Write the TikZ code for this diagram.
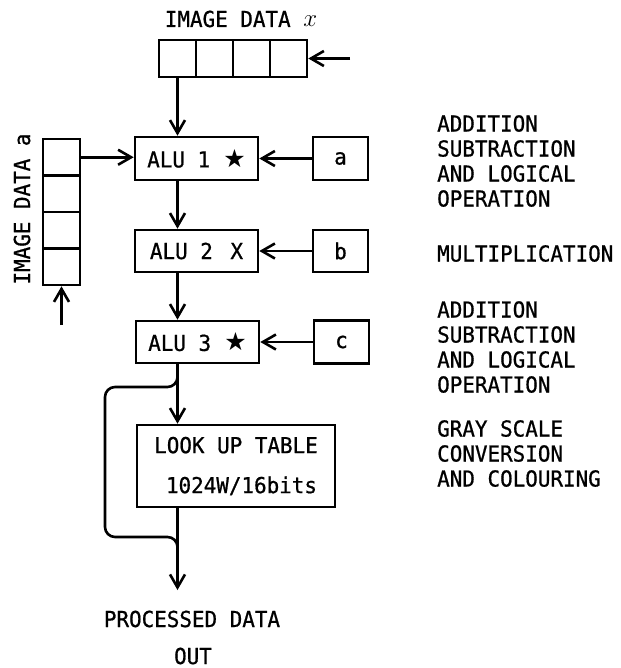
\documentclass[tikz,border=0pt]{standalone}
\usepackage{fontspec}
\setmonofont[FakeStretch=0.95,FakeBold=0.8]{DejaVu Sans Mono}
\newfontfamily\symfont{DejaVu Sans}
\usetikzlibrary{arrows.meta}
\newcommand\lbl{\ttfamily\fontsize{22}{25}\selectfont}
\newcommand\bigstar{{\symfont\fontsize{25}{25}\selectfont ★}}
\begin{document}
\begin{tikzpicture}[x=1pt,y=-1pt,
  lw/.style={line width=2.6pt},
  cell/.style={draw,lw,minimum width=37pt,minimum height=37pt,inner sep=0pt},
  vcell/.style={draw,lw,minimum width=37pt,minimum height=36.5pt,inner sep=0pt},
  blk/.style={draw,lw,inner sep=0pt,font=\lbl},
  arr/.style={lw,-{Straight Barb[length=13pt,width=15pt]}},
  txt/.style={inner sep=0pt,font=\lbl},
]
\useasboundingbox (0,0) rectangle (620,668);

% register x
\node[cell] (x1) at (177.5,58.5) {};
\node[cell] (x2) at (214.5,58.5) {};
\node[cell] (x3) at (251.5,58.5) {};
\node[cell] (x4) at (288.5,58.5) {};
\node[txt,anchor=base] (xlab) at (241,27) {IMAGE DATA {\fontsize{26}{26}\selectfont\(x\)}};

% register a
\node[vcell] (a1) at (61.5,157.25) {};
\node[vcell] (a2) at (61.5,193.75) {};
\node[vcell] (a3) at (61.5,230.25) {};
\node[vcell] (a4) at (61.5,266.75) {};
\node[txt,rotate=90] (alab) at (22,209) {IMAGE DATA a};

% ALUs
\node[blk,minimum width=123pt,minimum height=43pt] (alu1) at (196.5,158.5) {ALU 1\hspace{0.6em}\bigstar};
\node[blk,minimum width=123pt,minimum height=42pt] (alu2) at (196.5,251) {ALU 2\hspace{0.8em}X};
\node[blk,minimum width=123pt,minimum height=42pt] (alu3) at (197.5,342) {ALU 3\hspace{0.6em}\bigstar};

\node[blk,minimum width=55pt,minimum height=43pt] (ka) at (340.5,158.5) {a};
\node[blk,minimum width=55pt,minimum height=42pt] (kb) at (340.5,251) {b};
\node[blk,minimum width=55pt,minimum height=43pt] (kc) at (341.5,342) {c};

\node[blk,minimum width=198pt,minimum height=82pt,align=center,
      font=\ttfamily\fontsize{22}{40}\selectfont] (lut) at (236,466)
  {LOOK UP TABLE\\\hspace{0.5em}1024W/16bits};

% connectors
\coordinate (xin) at (350,58.5);
\draw[arr] (xin) -- (x4.east);
\draw[arr] (x1.south) -- (x1.south |- alu1.north);
\draw[arr] (a1.east) -- (a1.east -| alu1.west);
\coordinate (ain) at (61.5,325);
\draw[arr] (ain) -- (a4.south);
\draw[arr] (ka.west) -- (alu1.east);
\draw[arr] (kb.west) -- (alu2.east);
\draw[arr] (kc.west) -- (alu3.east);
\draw[arr] (x1.south |- alu1.south) -- (x1.south |- alu2.north);
\draw[arr] (x1.south |- alu2.south) -- (x1.south |- alu3.north);
\draw[arr] (x1.south |- alu3.south) -- (x1.south |- lut.north);
\coordinate (br) at (177.5,372);
\coordinate (jn) at (177.5,552);
\draw[lw,rounded corners=10pt] (br) -- (177.5,387) -- (105,387) -- (105,537) -- (177.5,537) -- (jn);
\coordinate (out) at (177.5,590);
\draw[arr] (x1.south |- lut.south) -- (out);

\node[txt,anchor=base] (pd) at (192,627) {PROCESSED DATA};
\node[txt,anchor=base] (po) at (193,664) {OUT};

% notes
\node[txt,anchor=north west,align=left] (n1) at (437,115) {ADDITION\\SUBTRACTION\\AND LOGICAL\\OPERATION};
\node[txt,anchor=north west,align=left] (n2) at (437,245) {MULTIPLICATION};
\node[txt,anchor=north west,align=left] (n3) at (437,301) {ADDITION\\SUBTRACTION\\AND LOGICAL\\OPERATION};
\node[txt,anchor=north west,align=left] (n4) at (437,420) {GRAY SCALE\\CONVERSION\\AND COLOURING};
\end{tikzpicture}
\end{document}
